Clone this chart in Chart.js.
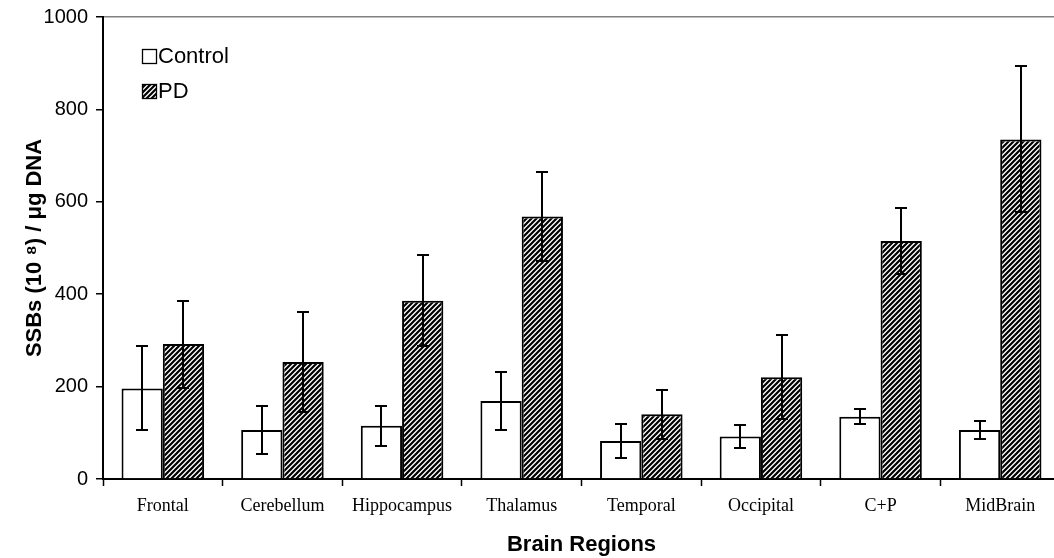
<!DOCTYPE html>
<html>
<head>
<meta charset="utf-8">
<script src="https://cdn.jsdelivr.net/npm/chart.js@4.4.1/dist/chart.umd.min.js"></script>
<style>
  html, body { margin: 0; padding: 0; background: #fff; overflow: hidden; }
  #wrap { width: 1060px; height: 558px; }
</style>
</head>
<body>
<div id="wrap"><canvas id="c"></canvas></div>
<script>
// Brain regions and SSB levels (mean and error) per group
const regions = ['Frontal', 'Cerebellum', 'Hippocampus', 'Thalamus', 'Temporal', 'Occipital', 'C+P', 'MidBrain'];
const controlMean = [196, 106, 115, 169, 82, 92, 135, 106];
const controlErr  = [91, 52, 43, 62, 36, 25, 17, 20];
const pdMean      = [292, 253, 386, 568, 140, 220, 515, 735];
const pdErr       = [94, 109, 99, 97, 53, 91, 72, 158];
const yTicks      = [0, 200, 400, 600, 800, 1000];

// Diagonal "/" hatch fill
function makeHatch() {
  const s = 5;
  const c = document.createElement('canvas');
  c.width = s; c.height = s;
  const g = c.getContext('2d');
  g.fillStyle = '#fff';
  g.fillRect(0, 0, s, s);
  g.strokeStyle = '#000';
  g.lineWidth = 2.2;
  g.beginPath();
  g.moveTo(-1, s + 1); g.lineTo(s + 1, -1);
  g.moveTo(-1, 1); g.lineTo(1, -1);
  g.moveTo(s - 1, s + 1); g.lineTo(s + 1, s - 1);
  g.stroke();
  return g.createPattern(c, 'repeat');
}
const hatch = makeHatch();

// White page behind the chart
const whiteBg = {
  id: 'whiteBg',
  beforeDraw(chart) {
    const { ctx, width, height } = chart;
    ctx.save();
    ctx.fillStyle = '#fff';
    ctx.fillRect(0, 0, width, height);
    ctx.restore();
  }
};

// Error bars centred on each bar, drawn through the y scale
const errorBars = {
  id: 'errorBars',
  afterDatasetsDraw(chart) {
    const { ctx } = chart;
    const y = chart.scales.y;
    ctx.save();
    ctx.strokeStyle = '#000';
    ctx.lineWidth = 2;
    chart.data.datasets.forEach((ds, i) => {
      const meta = chart.getDatasetMeta(i);
      meta.data.forEach((bar, j) => {
        const v = ds.data[j], e = ds.errors[j];
        const top = Math.round(y.getPixelForValue(v + e));
        const bot = Math.round(y.getPixelForValue(v - e));
        const x = Math.round(bar.x);
        const cap = 6;
        ctx.beginPath();
        ctx.moveTo(x, top); ctx.lineTo(x, bot);
        ctx.moveTo(x - cap, top); ctx.lineTo(x + cap, top);
        ctx.moveTo(x - cap, bot); ctx.lineTo(x + cap, bot);
        ctx.stroke();
      });
    });
    ctx.restore();
  }
};

// Stacked legend in the upper-left of the plot
const boxLegend = {
  id: 'boxLegend',
  afterDraw(chart) {
    const { ctx, chartArea } = chart;
    const x0 = chartArea.left + 39;
    let y0 = chartArea.top + 32;
    ctx.save();
    ctx.font = '22px "Liberation Sans", Arial, sans-serif';
    ctx.textBaseline = 'middle';
    ctx.textAlign = 'left';
    chart.data.datasets.forEach(ds => {
      ctx.fillStyle = ds.backgroundColor;
      ctx.fillRect(x0, y0, 15, 15);
      ctx.strokeStyle = '#000';
      ctx.lineWidth = 1.3;
      ctx.strokeRect(x0 + 0.5, y0 + 0.5, 14, 14);
      ctx.fillStyle = '#000';
      ctx.fillText(ds.label, x0 + 16, y0 + 8);
      y0 += 35;
    });
    ctx.restore();
  }
};

new Chart(document.getElementById('c'), {
  type: 'bar',
  data: {
    labels: regions,
    datasets: [
      {
        label: 'Control',
        data: controlMean,
        errors: controlErr,
        backgroundColor: '#fff',
        borderColor: '#000',
        borderWidth: 2
      },
      {
        label: 'PD',
        data: pdMean,
        errors: pdErr,
        backgroundColor: hatch,
        borderColor: '#000',
        borderWidth: 2
      }
    ]
  },
  options: {
    responsive: true,
    maintainAspectRatio: false,
    animation: false,
    devicePixelRatio: 1,
    layout: { padding: { left: 0, top: 17, right: 0, bottom: 0 } },
    datasets: { bar: { barPercentage: 1.0, categoryPercentage: 0.69 } },
    plugins: {
      legend: { display: false },
      tooltip: { enabled: false }
    },
    scales: {
      x: {
        grid: {
          offset: true,
          drawOnChartArea: false,
          drawTicks: true,
          tickLength: 7,
          tickColor: '#000',
          tickWidth: 1.5
        },
        border: { display: true, color: '#000', width: 2 },
        ticks: {
          color: '#000',
          padding: 9,
          maxRotation: 0,
          font: { family: '"Liberation Serif", "Times New Roman", serif', size: 18 }
        },
        title: {
          display: true,
          text: 'Brain Regions',
          color: '#000',
          padding: { top: 4, bottom: 0 },
          font: { family: '"Liberation Sans", Arial, sans-serif', size: 22, weight: 'bold' }
        },
        afterFit(scale) { scale.height = 79; }
      },
      y: {
        min: 0,
        max: 1000,
        afterBuildTicks(scale) { scale.ticks = yTicks.map(v => ({ value: v })); },
        grid: {
          drawTicks: true,
          tickLength: 7,
          tickColor: '#000',
          tickWidth: 1.5,
          lineWidth: 1.5,
          color: ctx => (ctx.tick && ctx.tick.value === 1000 ? '#808080' : 'rgba(0,0,0,0)')
        },
        border: { display: true, color: '#000', width: 2 },
        ticks: {
          color: '#000',
          padding: 8,
          callback: v => String(v),
          font: { family: '"Liberation Sans", Arial, sans-serif', size: 20 }
        },
        title: {
          display: true,
          text: 'SSBs (10 \u2078) / \u03bcg DNA',
          color: '#000',
          padding: { top: 22, bottom: 0 },
          font: { family: '"Liberation Sans", Arial, sans-serif', size: 22, weight: 'bold' }
        },
        afterFit(scale) {
          scale.width = 103;
          scale.paddingTop = 0;
          scale.paddingBottom = 0;
        }
      }
    }
  },
  plugins: [whiteBg, errorBars, boxLegend]
});
</script>
</body>
</html>
